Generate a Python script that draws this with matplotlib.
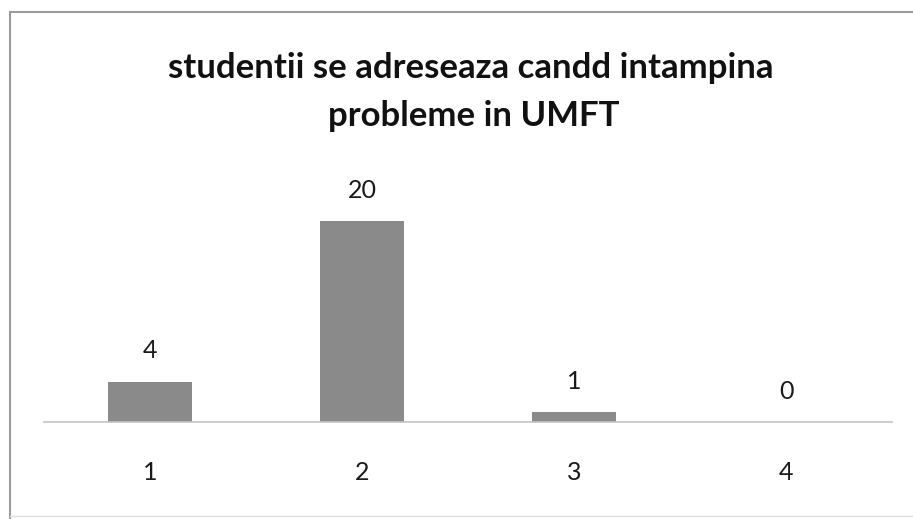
import matplotlib
matplotlib.use("Agg")
import matplotlib.pyplot as plt
from matplotlib.lines import Line2D

categories = ["1", "2", "3", "4"]
values = [4, 20, 1, 0]
title_lines = ["studentii se adreseaza candd intampina", "probleme in UMFT"]

W, H = 913, 519
fig = plt.figure(figsize=(W / 100, H / 100), dpi=100)
fig.patch.set_facecolor("white")

# axes geometry in pixels
left_px, right_px = 44, 892
base_px = 422
top_px = 422 - 25 * 10.05
ax = fig.add_axes([left_px / W, 1 - base_px / H, (right_px - left_px) / W, (base_px - top_px) / H])
x = list(range(len(categories)))
ax.bar(x, values, width=0.40, color="#8a8a8a", zorder=2)
ax.set_xlim(-0.5, len(categories) - 0.5)
ax.set_ylim(0, 25)
for s in ["top", "right", "left"]:
    ax.spines[s].set_visible(False)
ax.spines["bottom"].set_color("#c4c4c4")
ax.spines["bottom"].set_linewidth(1.2)
ax.set_yticks([])
ax.set_xticks(x)
ax.set_xticklabels(categories, fontsize=18, family="Lato", color="#1a1a1a")
ax.tick_params(axis="x", length=0, pad=28)
for xi, v in zip(x, values):
    ax.annotate(str(v), (xi, v), xytext=(0, 14), textcoords="offset points",
                ha="center", va="bottom", fontsize=18, family="Lato", color="#1a1a1a")

fig.text(471 / W, 1 - 68 / H, title_lines[0], ha="center", va="center",
         fontsize=25, fontweight="bold", family="Lato", color="#111111")
fig.text(474 / W, 1 - 116 / H, title_lines[1], ha="center", va="center",
         fontsize=25, fontweight="bold", family="Lato", color="#111111")

# outer chart border (top, left, bottom)
fig.add_artist(Line2D([10 / W, 1], [1 - 12 / H, 1 - 12 / H], transform=fig.transFigure, color="#9a9a9a", lw=1.5))
fig.add_artist(Line2D([10 / W, 10 / W], [1 - 12 / H, 0], transform=fig.transFigure, color="#9a9a9a", lw=1.5))
fig.add_artist(Line2D([10 / W, 1], [1 - 516 / H, 1 - 516 / H], transform=fig.transFigure, color="#dddddd", lw=1))

fig.savefig("out.png", dpi=100)
